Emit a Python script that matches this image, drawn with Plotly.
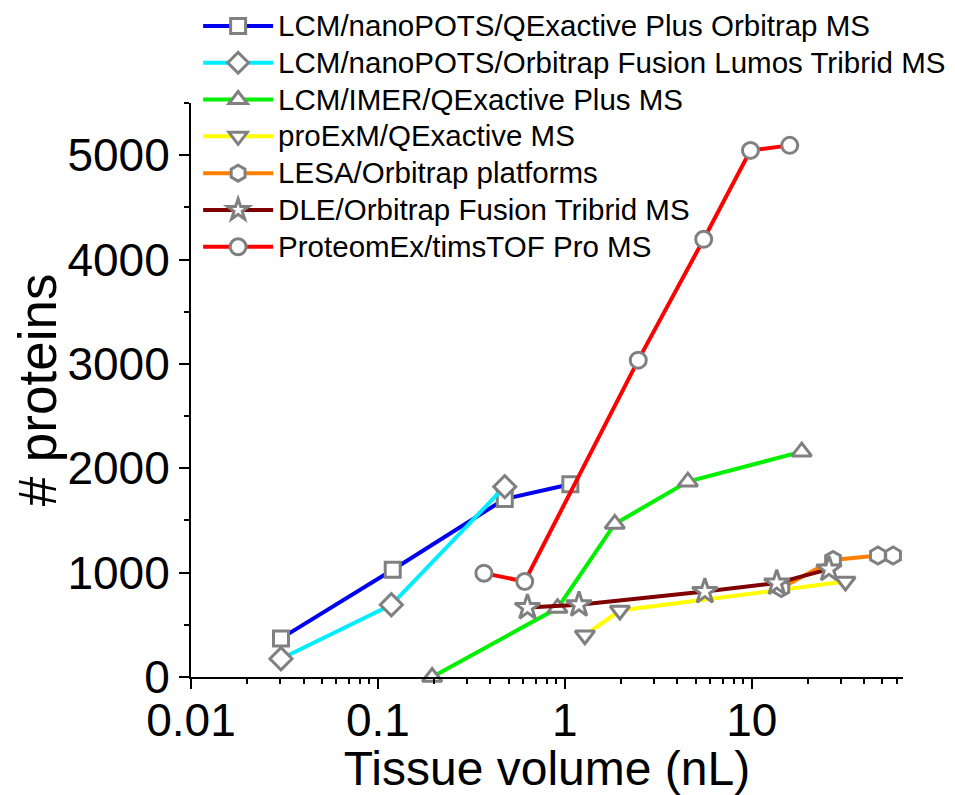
import plotly.graph_objects as go

# ---- data ----
names = [
    "LCM/nanoPOTS/QExactive Plus Orbitrap MS",
    "LCM/nanoPOTS/Orbitrap Fusion Lumos Tribrid MS",
    "LCM/IMER/QExactive Plus MS",
    "proExM/QExactive MS",
    "LESA/Orbitrap platforms",
    "DLE/Orbitrap Fusion Tribrid MS",
    "ProteomEx/timsTOF Pro MS",
]
x_nanopots_qe = [0.0303, 0.12, 0.477, 1.07]
y_nanopots_qe = [370, 1027, 1706, 1847]
x_nanopots_lumos = [0.0303, 0.118, 0.477]
y_nanopots_lumos = [175, 692, 1824]
x_imer = [0.195, 0.914, 1.85, 4.55, 18.5]
y_imer = [0, 660, 1467, 1872, 2159]
x_proexm = [1.28, 1.97, 31.7]
y_proexm = [400, 637, 915]
x_lesa = [14.4, 27.2, 47.3, 57.0]
y_lesa = [852, 1122, 1164, 1164]
x_dle = [0.631, 1.19, 5.61, 13.6, 25.9]
y_dle = [666, 692, 819, 900, 1033]
x_proteomex = [0.369, 0.61, 2.47, 5.53, 9.84, 15.96]
y_proteomex = [995, 915, 3036, 4194, 5046, 5094]

xs = [x_nanopots_qe, x_nanopots_lumos, x_imer, x_proexm, x_lesa, x_dle, x_proteomex]
ys = [y_nanopots_qe, y_nanopots_lumos, y_imer, y_proexm, y_lesa, y_dle, y_proteomex]
colors = ["#0000F0", "#00EEFF", "#00F000", "#FFFF00", "#FF8000", "#800000", "#FF0000"]
symbols = ["square", "diamond", "triangle-up", "triangle-down", "hexagon", "star", "circle"]
sizes = [15, 17, 17, 17, 17, 19, 16]

x_tickvals = [0.01, 0.1, 1, 10]
x_ticktext = ["0.01", "0.1", "1", "10"]
y_tickvals = [0, 1000, 2000, 3000, 4000, 5000]

FONT = "Liberation Sans, Arial, sans-serif"

fig = go.Figure()
for n, x, y, c, s, sz in zip(names, xs, ys, colors, symbols, sizes):
    fig.add_trace(go.Scatter(
        x=x, y=y, mode="lines+markers",
        name='<span style="font-size:29.5px">' + n + '</span>',
        line=dict(color=c, width=4),
        marker=dict(symbol=s, size=sz, color="white",
                    line=dict(color="#808080", width=3)),
        cliponaxis=False,
    ))

# the page body has an 8px margin, so the figure is sized 8px smaller
fig.update_layout(
    width=947, height=787,
    margin=dict(l=183, r=52, t=95, b=118, autoexpand=False),
    paper_bgcolor="white", plot_bgcolor="white",
    font=dict(family=FONT, color="black"),
    showlegend=True,
    legend=dict(
        x=0.010, y=1.175, xanchor="left", yanchor="top",
        bgcolor="rgba(0,0,0,0)",
        font=dict(size=26, family=FONT, color="black"),
        itemwidth=70,
        tracegroupgap=0,
    ),
    xaxis=dict(
        type="log", range=[-2, 1.809],
        tickvals=x_tickvals, ticktext=x_ticktext,
        ticks="outside", ticklen=10, tickwidth=2, tickcolor="black",
        showline=True, linewidth=2, linecolor="black",
        showgrid=False, zeroline=False,
        tickfont=dict(size=46, family=FONT),
        ticklabelstandoff=-8,
        title=dict(text="Tissue volume (nL)", font=dict(size=48, family=FONT), standoff=15),
        minor=dict(ticks="outside", ticklen=5, tickwidth=2, tickcolor="black",
                   dtick="D1", showgrid=False),
    ),
    yaxis=dict(
        range=[0, 5500],
        tickvals=y_tickvals,
        ticks="outside", ticklen=10, tickwidth=2, tickcolor="black",
        showline=True, linewidth=2, linecolor="black",
        showgrid=False, zeroline=False,
        automargin=True,
        tickfont=dict(size=46, family=FONT),
        ticklabelstandoff=0,
        title=dict(text="# proteins", font=dict(size=53, family=FONT), standoff=27),
        minor=dict(ticks="outside", ticklen=5, tickwidth=2, tickcolor="black",
                   dtick=500, showgrid=False),
    ),
)

fig.write_html("out.html")
